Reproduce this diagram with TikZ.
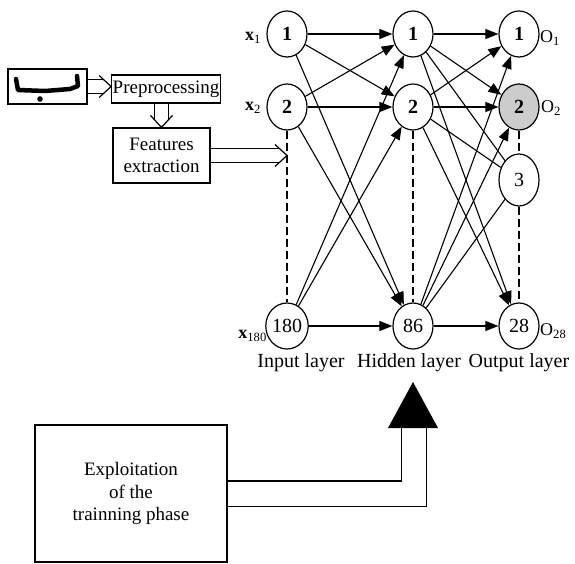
\documentclass[tikz,border=0pt]{standalone}
\usepackage{fontspec}
\setmainfont{Liberation Serif}
\usetikzlibrary{arrows.meta,shapes.geometric}

\tikzset{
  neuron/.style={draw, ellipse, line width=1.2pt, minimum width=40pt,
    minimum height=46pt, inner sep=0pt, font=\fontsize{20}{22}\selectfont},
  box/.style={draw, line width=1.2pt, align=center,
    font=\fontsize{19}{22.5}\selectfont},
  link/.style={line width=1.1pt, -{Triangle[length=13pt,width=10pt]}},
  omitted/.style={line width=1.6pt, dash pattern=on 8pt off 4pt},
  dbl/.style={double, double distance=13pt, line width=1.2pt, shorten >=7pt},
  chev/.style={line width=1.2pt, line join=miter},
  lbl/.style={font=\fontsize{18}{20}\selectfont, inner sep=1pt},
  layer/.style={font=\fontsize{20}{22}\selectfont, inner sep=1pt},
}

\begin{document}
\begin{tikzpicture}[x=1pt, y=-1pt]
  \useasboundingbox (0,0) rectangle (575,564);

  % input / hidden / output neurons
  \node[neuron] (i1) at (287,34) {\textbf{1}};
  \node[neuron] (i2) at (287,107) {\textbf{2}};
  \node[neuron] (i180) at (287,326) {180};
  \node[neuron] (h1) at (413,34) {\textbf{1}};
  \node[neuron] (h2) at (413,107) {\textbf{2}};
  \node[neuron] (h86) at (413,326) {86};
  \node[neuron] (o1) at (519,34) {\textbf{1}};
  \node[neuron, fill=gray!40] (o2) at (519,107) {\textbf{2}};
  \node[neuron, minimum height=52pt] (o3) at (519,180) {3};
  \node[neuron] (o28) at (519,326) {28};

  \node[lbl] (lx1) at (253,38) {\textbf{x}\textsubscript{1}};
  \node[lbl] (lx2) at (253,108) {\textbf{x}\textsubscript{2}};
  \node[lbl, anchor=east] (lx180) at (268,336) {\textbf{x}\textsubscript{180}};
  \node[lbl] (lo1) at (550,38) {O\textsubscript{1}};
  \node[lbl] (lo2) at (551,108) {O\textsubscript{2}};
  \node[lbl, anchor=west] (lo28) at (539,331) {O\textsubscript{28}};

  \node[layer] (lin) at (301,363) {Input layer};
  \node[layer] (lhid) at (409,363) {Hidden layer};
  \node[layer] (lout) at (519,363) {Output layer};

  % skipped units
  \draw[omitted] (i2) -- (i180);
  \draw[omitted] (h2) -- (h86);
  \draw[omitted] (o2) -- (o3);
  \draw[omitted] (o3) -- (o28);

  % input -> hidden
  \draw[link] (i1) -- (h1);
  \draw[link] (i1) -- (h2);
  \draw[link] (i1) -- (h86);
  \draw[link] (i2) -- (h1);
  \draw[link] (i2) -- (h2);
  \draw[link] (i2) -- (h86);
  \draw[link] (i180) -- (h1);
  \draw[link] (i180) -- (h2);
  \draw[link] (i180) -- (h86);

  % hidden -> output
  \draw[link] (h1) -- (o1);
  \draw[link] (h1) -- (o2);
  \draw[line width=1.1pt] (h1) -- (o3);
  \draw[link] (h1) -- (o28);
  \draw[link] (h2) -- (o1);
  \draw[link] (h2) -- (o2);
  \draw[line width=1.1pt] (h2) -- (o3);
  \draw[link] (h2) -- (o28);
  \draw[link] (h86) -- (o1);
  \draw[link] (h86) -- (o2);
  \draw[line width=1.1pt] (h86) -- (o3);
  \draw[link] (h86) -- (o28);

  % preprocessing chain
  \node[box, minimum width=79pt, minimum height=35pt] (img) at (47.5,86.5) {};
  \draw[line width=4.5pt, line cap=round, line join=round]
    (16,79) -- (18,90) -- (45,91) -- (70,89) -- (78,86) -- (77,76);
  \fill (40,99) circle (2.8);
  \node[box, minimum width=108pt, minimum height=28pt, inner sep=1pt] (pre) at (166,89) {Preprocessing};
  \node[box, minimum width=97pt, minimum height=55pt] (feat) at (161.5,155.5) {Features\\extraction};
  \coordinate (prein) at (img.east -| pre.west);
  \coordinate (featin) at (pre.south -| feat.north);
  \coordinate (tap) at (i2 |- feat.east);
  \draw[dbl] (img.east) -- (prein);
  \draw[chev] (prein) ++(-12,-11) -- (prein) -- ++(-12,11);
  \draw[dbl] (featin) -- (feat.north);
  \draw[chev] (feat.north) ++(-11,-12) -- (feat.north) -- ++(11,-12);
  \draw[dbl] (feat.east) -- (tap);
  \draw[chev] (tap) ++(-12,-11) -- (tap) -- ++(-12,11);

  % exploitation of the training
  \node[box, minimum width=192pt, minimum height=137pt] (expl) at (131,493.5) {Exploitation\\of the\\trainning phase};
  \coordinate (apex) at (413,382);
  \coordinate (base) at (414,428);
  \draw[double, double distance=24pt, line width=1.2pt] (expl.east) -| (base);
  \fill (apex) -- ++(-25,46) -- ++(50,0) -- cycle;
\end{tikzpicture}
\end{document}
